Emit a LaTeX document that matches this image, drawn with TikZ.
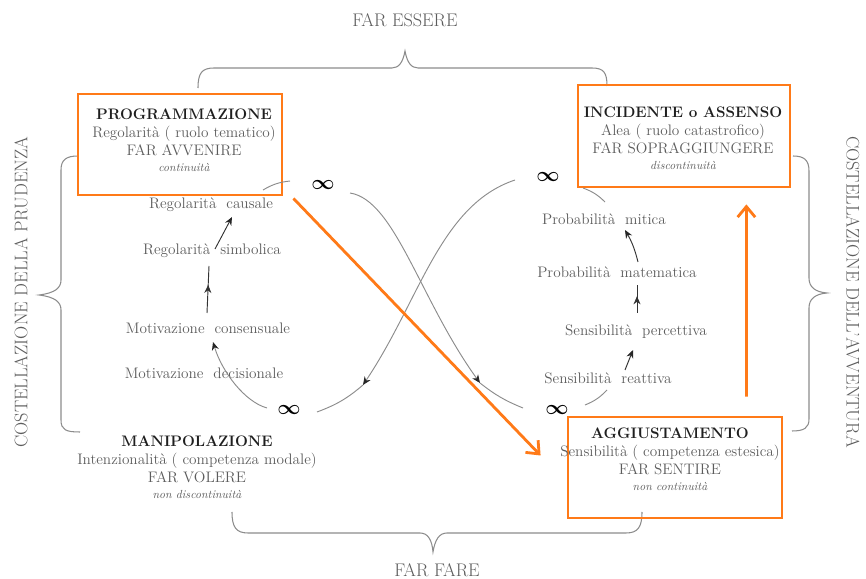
\documentclass[tikz,border=0pt]{standalone}
\usepackage{amsmath}
\usepackage{amssymb, bm}
\usepackage{tikz}
\usetikzlibrary{arrows.meta,calc,decorations.markings}

\definecolor{arancio}{RGB}{255,122,24}
\definecolor{testogrigio}{RGB}{92,92,92}
\definecolor{lineagrigia}{RGB}{140,140,140}

\newcommand{\blocco}[4]{{\color{black!88}\bfseries #1}\\#2\\#3\\[-2pt]{\fontsize{10}{11}\selectfont\itshape #4}}

\tikzset{
	riquadro/.style={draw=arancio, line width=2.4pt, inner sep=0pt},
	testo/.style={text=testogrigio, font=\fontsize{13}{15.5}\selectfont, align=center, inner sep=0pt},
	voce/.style={text=testogrigio, font=\fontsize{13}{14}\selectfont, inner sep=0pt},
	lato/.style={text=testogrigio, font=\fontsize{15.6}{17}\selectfont, inner sep=0pt},
	infinito/.style={font=\fontsize{17}{17}\selectfont, inner sep=0pt},
	graffa/.style={draw=lineagrigia, line width=0.9pt},
	arco/.style={draw=lineagrigia, line width=0.8pt},
	punta/.style={-{Stealth[length=7pt,width=6pt,color=black!85]}},
	freccina/.style={draw=black!80, line width=0.8pt, punta},
	mezzafreccia/.style={draw=black!80, line width=0.8pt, postaction={decorate},
		decoration={markings, mark=at position 0.6 with {\arrow{Stealth[length=7pt,width=6pt]}}}},
	freccia/.style={draw=arancio, line width=2.4pt, -{Straight Barb[length=9pt,width=15pt]}},
}

\begin{document}
\begin{tikzpicture}[x=0.3mm, y=-0.3mm]
	%\draw[help lines] (0,0) grid[step=50] (866,579);
	\useasboundingbox (0,0) rectangle (866,579);
	% etichette esterne e graffe
	\node[lato] (essere) at (405,20) {FAR ESSERE};
	\node[lato] (fare) at (437,570) {FAR FARE};
	\node[lato, rotate=90] (prudenza) at (21,292) {COSTELLAZIONE DELLA PRUDENZA};
	\node[lato, rotate=-90] (avventura) at (853,292) {COSTELLAZIONE DELL'AVVENTURA};
	\draw[graffa] (198,88) .. controls (198,73) and (202,68) .. (214,68) -- (392,68) .. controls (399,68) and (403,62) .. (405,51) .. controls (407,62) and (411,68) .. (418,68) -- (592,68) .. controls (604,68) and (607,73) .. (607,86);
	\draw[graffa] (232,512) .. controls (232,527) and (236,533) .. (248,533) -- (420,533) .. controls (428,533) and (432,540) .. (433,552) .. controls (435,540) and (439,533) .. (447,533) -- (626,533) .. controls (638,533) and (642,527) .. (642,512);
	\draw[graffa] (78,156) .. controls (66,156) and (61,160) .. (61,170) -- (61,280) .. controls (61,288) and (55,293) .. (39,295) .. controls (55,297) and (61,302) .. (61,310) -- (61,420) .. controls (61,430) and (66,432) .. (80,432);
	\draw[graffa] (793,156) .. controls (804,156) and (809,160) .. (809,171) -- (809,278) .. controls (809,287) and (815,292) .. (827,293) .. controls (815,294) and (809,299) .. (809,308) -- (809,419) .. controls (809,428) and (804,431) .. (792,431);
	% riquadri
	\node[riquadro, minimum width=61.2mm, minimum height=30.3mm] (prog) at (180,144.5) {};
	\node[riquadro, minimum width=63.6mm, minimum height=30.6mm] (inc) at (684,136) {};
	\node[riquadro, minimum width=64.2mm, minimum height=30.3mm] (agg) at (675,467.5) {};
	\node[testo] (progT) at (184,140) {\blocco{PROGRAMMAZIONE}{Regolarità ( ruolo tematico)}{FAR AVVENIRE}{continuità}};
	\node[testo] (incT) at (683,138) {\blocco{INCIDENTE o ASSENSO}{Alea ( ruolo catastrofico)}{FAR SOPRAGGIUNGERE}{discontinuità}};
	\node[testo] (manT) at (197,467) {\blocco{MANIPOLAZIONE}{Intenzionalità ( competenza modale)}{FAR VOLERE}{non discontinuità}};
	\node[testo] (aggT) at (670,459) {\blocco{AGGIUSTAMENTO}{Sensibilità ( competenza estesica)}{FAR SENTIRE}{non continuità}};
	% infiniti
	\node[infinito] (inf1) at (323,185) {$\bm{\infty}$};
	\node[infinito] (inf2) at (548,177) {$\bm{\infty}$};
	\node[infinito] (inf3) at (289,410) {$\bm{\infty}$};
	\node[infinito] (inf4) at (557,410) {$\bm{\infty}$};
	% voci a sinistra
	\node[voce] (caus) at (211,205) {Regolarità~ causale};
	\node[voce] (simb) at (212,251) {Regolarità~ simbolica};
	\node[voce] (cons) at (208,328) {Motivazione~ consensuale};
	\node[voce] (deci) at (204,373) {Motivazione~ decisionale};
	% voci a destra
	\node[voce] (mit) at (604,219) {Probabilità~ mitica};
	\node[voce] (mat) at (617,272) {Probabilità~ matematica};
	\node[voce] (perc) at (636,332) {Sensibilità~ percettiva};
	\node[voce] (rea) at (608,378) {Sensibilità~ reattiva};
	% archi grigi
	\draw[arco] ($(inf1)+(-60,5)$) to[bend left=12] ($(inf1)+(-33,-4)$);
	\draw[arco] ($(inf2)+(35,11)$) to[bend left=12] ($(inf2)+(57,25)$);
	\draw[arco] ($(inf4)+(28,-5)$) to[bend right=12] ($(inf4)+(50,-20)$);
	\draw[arco, punta] ($(inf3)+(-22,-2)$) .. controls (245,402) and (222,372) .. ($(cons)+(5,14)$);
	% incrocio centrale
	\coordinate (c1) at ($(inf3)+(74,-25)$);
	\coordinate (c2) at ($(inf4)+(-77,-27)$);
	\draw[arco, punta] ($(inf2)+(-33,3)$) .. controls (440,205) and (420,300) .. (c1);
	\draw[arco] ($(inf3)+(28,2)$) to[bend right=10] (c1);
	\draw[arco, punta] ($(inf1)+(27,8)$) .. controls (395,200) and (420,300) .. (c2);
	\draw[arco] (c2) to[bend right=8] ($(inf4)+(-34,-2)$);
	% frecce nere
	\draw[freccina] ($(simb)+(3,-2)$) -- ($(caus)+(21,12)$);
	\draw[mezzafreccia] ($(cons)+(-1,-15)$) -- ($(simb)+(-3,15)$);
	\draw[freccina] ($(mat)+(21,-10)$) to[bend right=8] ($(mit)+(21,11)$);
	\draw[mezzafreccia] ($(perc)+(1,-19)$) -- ($(mat)+(20,13)$);
	\draw[freccina] ($(rea)+(17,-8)$) -- ($(perc)+(-3,18)$);
	% frecce arancioni
	\draw[freccia] ($(prog.south east)+(10,2)$) -- ($(agg.west)+(-26,-12)$);
	\draw[freccia] ($(agg.north east)+(-37,-19)$) -- ($(inc.south east)+(-45,16)$);
\end{tikzpicture}
\end{document}
